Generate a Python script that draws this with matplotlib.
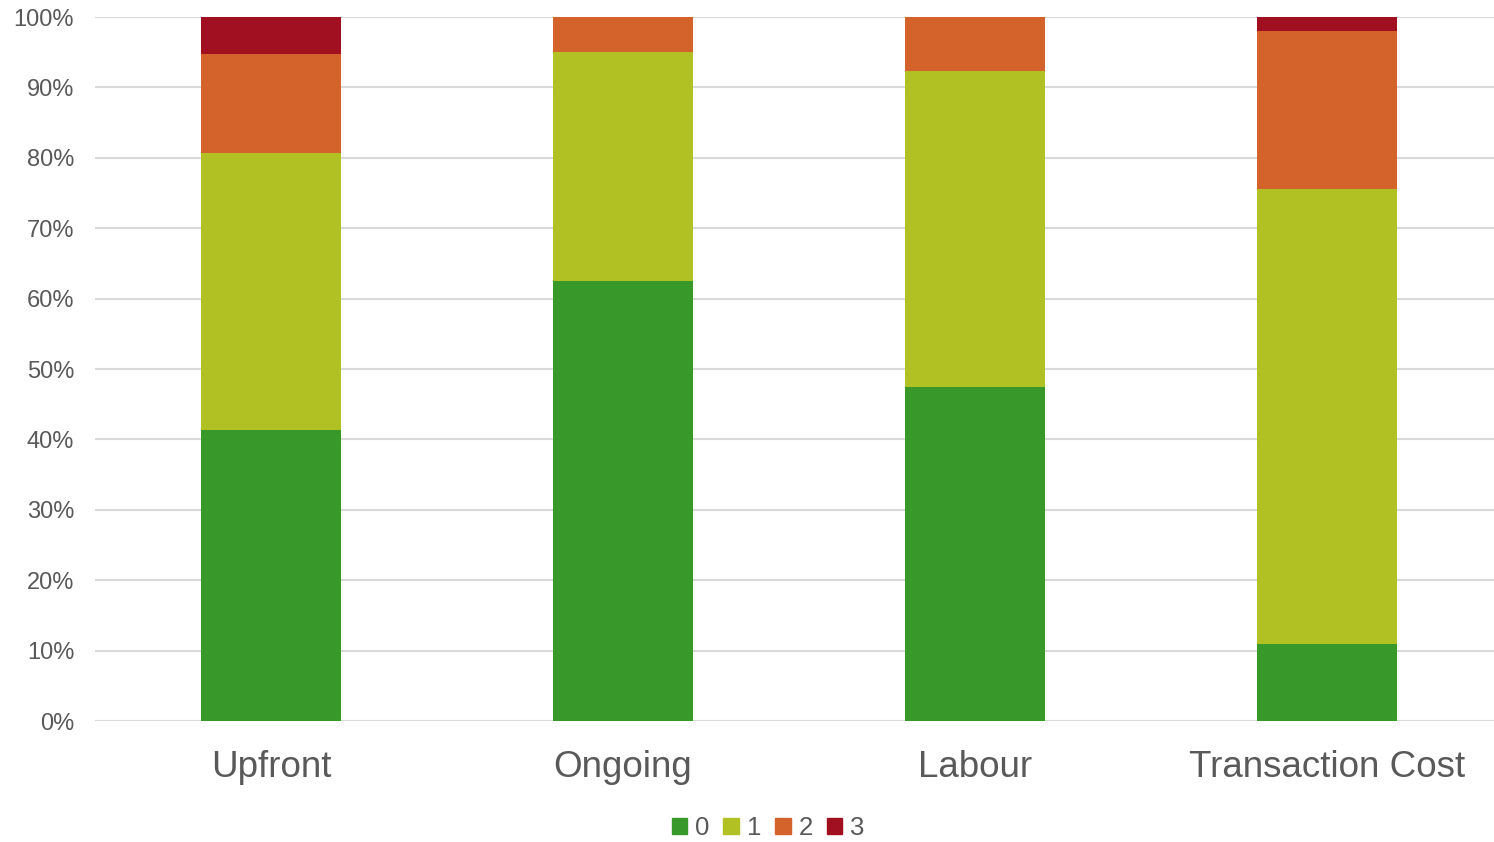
import numpy as np
import matplotlib.pyplot as plt
from matplotlib.patches import Patch
from matplotlib.ticker import PercentFormatter

categories = ['Upfront', 'Ongoing', 'Labour', 'Transaction Cost']
score_0 = [41.3, 62.5, 47.4, 10.9]
score_1 = [39.4, 32.5, 44.9, 64.7]
score_2 = [14.0, 5.0, 7.7, 22.4]
score_3 = [5.3, 0.0, 0.0, 2.0]

series = [score_0, score_1, score_2, score_3]
labels = ['0', '1', '2', '3']
colors = ['#38982A', '#B1C124', '#D4622B', '#A01020']
text_grey = '#595959'

plt.rcParams['font.family'] = ['Liberation Sans', 'DejaVu Sans']

fig = plt.figure(figsize=(14.94, 8.42), dpi=100)
ax = fig.add_axes([95 / 1494, 121 / 842, 1408 / 1494, 704 / 842])

x = np.arange(len(categories))
bottom = np.zeros(len(categories))
for vals, lab, col in zip(series, labels, colors):
    ax.bar(x, vals, width=0.4, bottom=bottom, color=col, label=lab, zorder=3)
    bottom += np.array(vals)

ax.set_xlim(-0.5, len(categories) - 0.5)
ax.set_ylim(0, 100)
ax.set_yticks(np.arange(0, 101, 10))
ax.yaxis.set_major_formatter(PercentFormatter(decimals=0))
ax.set_xticks(x)
ax.set_xticklabels(categories, fontsize=26.5, color=text_grey)
ax.tick_params(axis='x', length=0, pad=21)
ax.tick_params(axis='y', length=0, labelsize=17, labelcolor=text_grey, pad=15)
ax.grid(axis='y', color='#D9D9D9', linewidth=1.5, zorder=0)
for s in ax.spines.values():
    s.set_visible(False)

handles = [Patch(color=c) for c in colors]
fig.legend(handles, labels, loc='center', bbox_to_anchor=(768 / 1494, 1 - 828 / 842),
           ncol=4, frameon=False, fontsize=18.5, labelcolor=text_grey,
           handlelength=0.6, handleheight=0.6, handletextpad=0.3,
           columnspacing=0.55, borderpad=0)

fig.savefig('out.png', dpi=100)
